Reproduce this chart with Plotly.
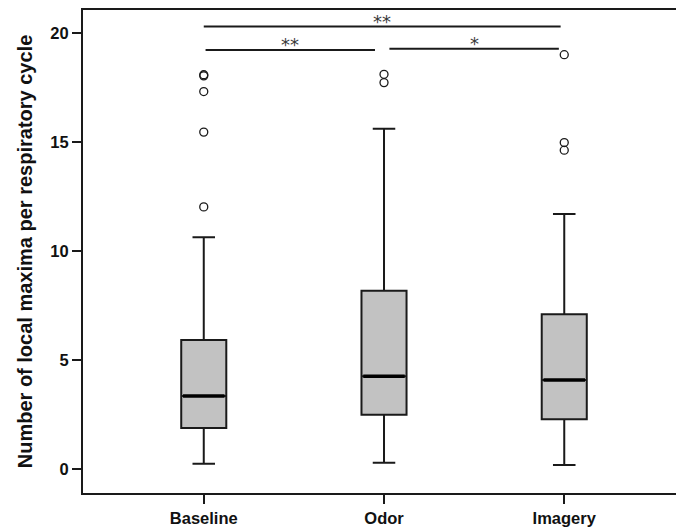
import plotly.graph_objects as go

categories = ["Baseline", "Odor", "Imagery"]
q1 = [1.88, 2.49, 2.28]
median = [3.35, 4.25, 4.08]
q3 = [5.92, 8.17, 7.10]
lower_whisker = [0.24, 0.29, 0.18]
upper_whisker = [10.63, 15.6, 11.7]
outliers = {
    "Baseline": [18.03, 18.08, 17.31, 15.45, 12.02],
    "Odor": [18.1, 17.72],
    "Imagery": [19.0, 14.97, 14.62],
}
# significance brackets: (from category index, to category index, y, label)
sig_from = [0.0, 0.01, 1.03]
sig_to = [1.98, 0.95, 1.97]
sig_y = [20.29, 19.22, 19.27]
sig_label = ["**", "**", "*"]

xpos = list(range(len(categories)))
BOXW = 0.25
LINE = "#1a1a1a"

fig = go.Figure()
fig.add_trace(go.Box(
    x=xpos, q1=q1, median=median, q3=q3,
    lowerfence=lower_whisker, upperfence=upper_whisker,
    width=BOXW, whiskerwidth=0.5,
    fillcolor="#c2c2c2", line=dict(color=LINE, width=2),
    boxpoints=False, showlegend=False, hoverinfo="skip",
))
# thicker median lines
for i, m in enumerate(median):
    fig.add_trace(go.Scatter(
        x=[xpos[i] - BOXW / 2 + 0.01, xpos[i] + BOXW / 2 - 0.01], y=[m, m],
        mode="lines", line=dict(color="#000000", width=3.5),
        showlegend=False, hoverinfo="skip"))
# outliers
for i, c in enumerate(categories):
    ys = outliers[c]
    fig.add_trace(go.Scatter(
        x=[xpos[i]] * len(ys), y=ys, mode="markers",
        marker=dict(symbol="circle-open", size=8, color=LINE, line=dict(width=1.3)),
        showlegend=False, hoverinfo="skip"))
# significance lines
for a, b, y, lab in zip(sig_from, sig_to, sig_y, sig_label):
    fig.add_trace(go.Scatter(
        x=[a, b], y=[y, y], mode="lines", line=dict(color=LINE, width=2),
        showlegend=False, hoverinfo="skip"))
    fig.add_annotation(x=(a + b) / 2, y=y, text=lab, showarrow=False,
                       yanchor="bottom", yshift=-7,
                       font=dict(family="DejaVu Sans", size=18, color="#3a3a3a"))

font_b = dict(family="Liberation Sans", size=16.5, color="#111", weight="bold")
fig.update_layout(
    width=676, height=527,
    margin=dict(l=83, r=0, t=10, b=34),
    plot_bgcolor="white", paper_bgcolor="white",
    xaxis=dict(
        range=[-0.67, 2.62], tickvals=xpos, ticktext=categories,
        showline=True, linecolor=LINE, linewidth=2, mirror=True,
        ticks="outside", ticklen=9, tickwidth=2, tickcolor=LINE,
        showgrid=False, zeroline=False, tickfont=font_b,
    ),
    yaxis=dict(
        range=[-1.1, 21.05], tickvals=[0, 5, 10, 15, 20],
        showline=True, linecolor=LINE, linewidth=2,
        ticks="outside", ticklen=9, tickwidth=2, tickcolor=LINE,
        showgrid=False, zeroline=False, tickfont=font_b,
        title=dict(text="Number of local maxima per respiratory cycle",
                   font=dict(family="Liberation Sans", size=20, color="#111", weight="bold"),
                   standoff=12),
    ),
)
fig.write_html("out.html")
